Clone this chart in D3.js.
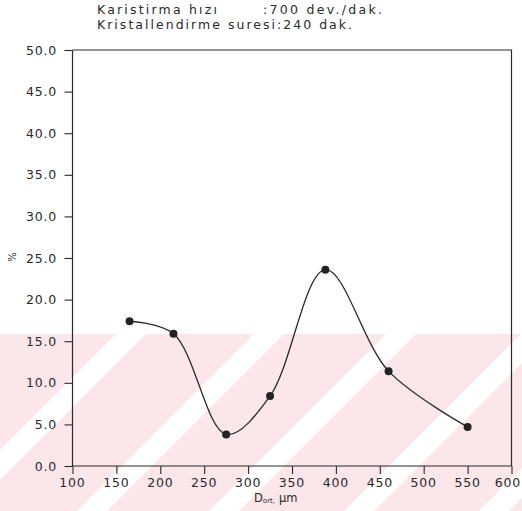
<!DOCTYPE html>
<html>
<head>
<meta charset="utf-8">
<script src="https://cdn.jsdelivr.net/npm/d3@7"></script>
<style>
  body { margin: 0; background: #fff; }
  svg { display: block; }
  text { font-family: "DejaVu Sans", sans-serif; fill: #2a2a2a; }
</style>
</head>
<body>
<svg id="chart" width="522" height="511"></svg>
<script>
// values
let diameters = [165, 215, 275, 325, 388, 460, 550];   // D ort, um
let percents = [17.4, 15.9, 3.8, 8.4, 23.6, 11.4, 4.7]; // %
let xTicks = [100, 150, 200, 250, 300, 350, 400, 450, 500, 550, 600];
let yTicks = [0, 5, 10, 15, 20, 25, 30, 35, 40, 45, 50];

let svg = d3.select('#chart');
let ink = '#2a2a2a';

let x = d3.scaleLinear().domain([100, 600]).range([72.5, 511.5]);
let y = d3.scaleLinear().domain([0, 50]).range([466, 50]);

// pink watermark band with white diagonal stripes
let wm = svg.append('g');
wm.append('rect')
  .attr('x', 0).attr('y', 334).attr('width', 522).attr('height', 177)
  .attr('fill', '#fbe6ea');
[450, 588, 720, 855, 990].forEach(u => {
  let w = 30;
  let pts = [[u - 334, 334], [u + w - 334, 334], [u + w - 511, 511], [u - 511, 511]];
  wm.append('polygon')
    .attr('points', pts.map(p => p.join(',')).join(' '))
    .attr('fill', '#fff');
});

// title lines
svg.append('text').attr('x', 97).attr('y', 14).attr('font-size', 12.5)
  .attr('textLength', 120).attr('lengthAdjust', 'spacing')
  .text('Karistirma hızı');
svg.append('text').attr('x', 263).attr('y', 14).attr('font-size', 12.5)
  .attr('textLength', 119).attr('lengthAdjust', 'spacing')
  .text(':700 dev./dak.');
svg.append('text').attr('x', 97).attr('y', 28.5).attr('font-size', 12.5)
  .attr('textLength', 255).attr('lengthAdjust', 'spacing')
  .text('Kristallendirme suresi:240 dak.');

// frame
svg.append('path')
  .attr('d', `M${x(100)},${y(50)}H${x(600)}V${y(0)}`)
  .attr('fill', 'none').attr('stroke', ink).attr('stroke-width', 1.2);

// x axis
let xAxis = svg.append('g').attr('transform', `translate(0,${y(0)})`);
xAxis.call(d3.axisBottom(x).tickValues(d3.range(100, 601, 10)).tickSize(5).tickFormat(''));
xAxis.call(d3.axisBottom(x).tickValues(xTicks).tickSize(8).tickFormat(''));
xAxis.selectAll('path, line').attr('stroke', ink).attr('stroke-width', 1.1);
xAxis.selectAll('.domain').remove();
svg.append('line')
  .attr('x1', x(100)).attr('x2', x(600)).attr('y1', y(0)).attr('y2', y(0))
  .attr('stroke', ink).attr('stroke-width', 1.2);
svg.append('g').selectAll('text').data(xTicks).enter().append('text')
  .attr('x', d => d === 600 ? 521 : x(d)).attr('y', 487)
  .attr('text-anchor', d => d === 600 ? 'end' : 'middle').attr('font-size', 12.5)
  .attr('letter-spacing', 0.8)
  .text(d => d);

// y axis
let yAxis = svg.append('g').attr('transform', `translate(${x(100)},0)`);
yAxis.call(d3.axisRight(y).tickValues(d3.range(0, 51, 1)).tickSize(4).tickFormat(''));
yAxis.call(d3.axisLeft(y).tickValues(yTicks).tickSize(8).tickFormat(''));
yAxis.selectAll('path, line').attr('stroke', ink).attr('stroke-width', 1.1);
yAxis.selectAll('.domain').remove();
svg.append('line')
  .attr('x1', x(100)).attr('x2', x(100)).attr('y1', y(0)).attr('y2', y(50))
  .attr('stroke', ink).attr('stroke-width', 1.2);
svg.append('g').selectAll('text').data(yTicks).enter().append('text')
  .attr('x', 57).attr('y', d => y(d) + 4.5)
  .attr('text-anchor', 'end').attr('font-size', 12.5)
  .attr('letter-spacing', 0.8)
  .text(d => d.toFixed(1));

// axis titles
let xt = svg.append('text').attr('x', 254).attr('y', 502).attr('font-size', 11.5);
xt.append('tspan').text('D');
xt.append('tspan').attr('font-size', 7).attr('dy', 1).text('ort,');
xt.append('tspan').attr('dy', -1).attr('dx', 4).text('μm');
svg.append('text')
  .attr('transform', 'translate(16,257) rotate(-90)')
  .attr('text-anchor', 'middle').attr('font-size', 10)
  .text('%');

// curve and markers
let pts = diameters.map((d, i) => [d, percents[i]]);
svg.append('path')
  .datum(pts)
  .attr('d', d3.line().x(d => x(d[0])).y(d => y(d[1])).curve(d3.curveCatmullRom.alpha(0.5)))
  .attr('fill', 'none').attr('stroke', ink).attr('stroke-width', 1.3);
svg.append('g').selectAll('circle').data(pts).enter().append('circle')
  .attr('cx', d => x(d[0])).attr('cy', d => y(d[1])).attr('r', 4)
  .attr('fill', '#222');
</script>
</body>
</html>
